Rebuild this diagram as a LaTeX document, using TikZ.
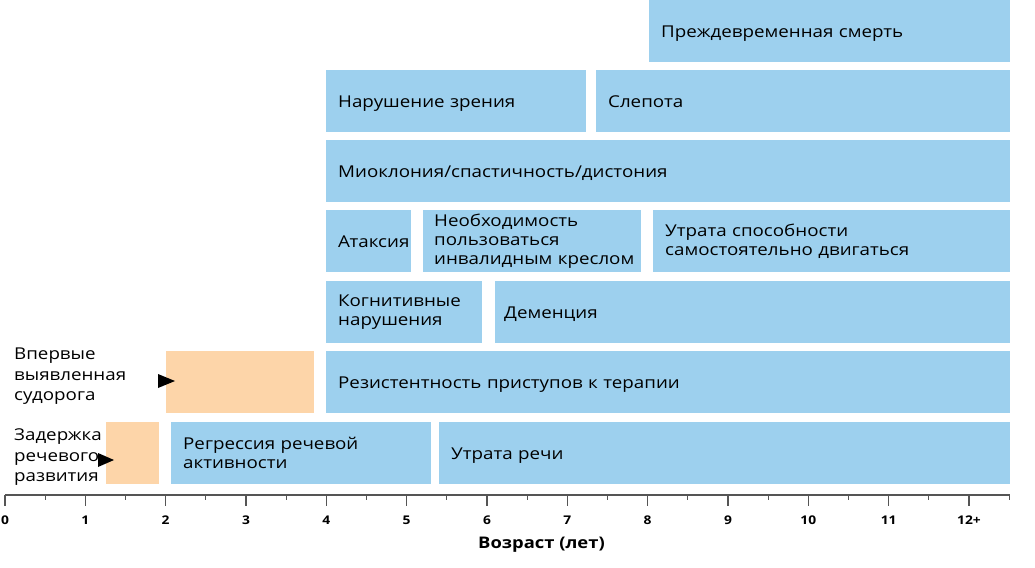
\documentclass[tikz,border=0pt]{standalone}
\usepackage{fontspec}
\setmainfont{Open Sans}[FakeStretch=1.15]
\definecolor{boxblue}{HTML}{9DD0EE}
\definecolor{boxorange}{HTML}{FDD5A9}
\definecolor{axisgray}{HTML}{555555}
\begin{document}
\begin{tikzpicture}[x=1pt,y=-1pt,
  bx/.style={anchor=north west, inner xsep=12pt, inner ysep=0pt,
    minimum height=62pt, align=left, text=black,
    font=\fontsize{16.3}{18.8}\selectfont},
  bluebox/.style={bx, fill=boxblue},
  oneline/.style={text depth=0pt},
  orangebox/.style={bx, fill=boxorange},
  sidelabel/.style={anchor=north west, inner sep=0pt, align=left,
    font=\fontsize{16.3}{20.5}\selectfont},
  marker/.style={fill=black},
  axisline/.style={draw=axisgray, line width=1.3pt},
  ticknum/.style={font=\bfseries\fontsize{12}{13}\selectfont},
  axistitle/.style={font=\bfseries\fontsize{16}{18}\selectfont}]
\useasboundingbox (0,0) rectangle (1035,567);

% rows
\node[bluebox, oneline, text width=337pt] (death) at (649,0) {Преждевременная смерть};
\node[bluebox, oneline, text width=236pt] (vision) at (326,70) {Нарушение зрения};
\node[bluebox, oneline, text width=390pt] (blind) at (596,70) {Слепота};
\node[bluebox, oneline, text width=660pt] (myo) at (326,140) {Миоклония/спастичность/дистония};
\node[bluebox, oneline, text width=73pt, inner xsep=6pt] (ataxia) at (326,210) {\hspace*{6pt}Атаксия};
\node[bluebox, text width=198pt, inner xsep=10pt] (wheel) at (423,210) {\hspace*{1pt}Необходимость\\\hspace*{1pt}пользоваться\\\hspace*{1pt}\mbox{инвалидным креслом}};
\node[bluebox, text width=333pt] (immob) at (653,210) {Утрата способности\\самостоятельно двигаться};
\node[bluebox, text width=132pt] (cogn) at (326,281) {Когнитивные\\нарушения};
\node[bluebox, oneline, text width=497pt, inner xsep=9pt] (dement) at (495,281) {Деменция};
\node[orangebox, text width=124pt] (seizbar) at (166,351) {};
\node[bluebox, oneline, text width=660pt] (resist) at (326,351) {Резистентность приступов к терапии};
\node[orangebox, text width=29pt] (delaybar) at (106,422) {};
\node[bluebox, text width=236pt] (regress) at (171,422) {Регрессия речевой\\активности};
\node[bluebox, oneline, text width=547pt] (speech) at (439,422) {Утрата речи};

% side labels
\node[sidelabel] (seizlbl) at (14,348) {Впервые\\выявленная\\судорога};
\node[sidelabel] (delaylbl) at (14,428.5) {Задержка\\речевого\\развития};
\coordinate (m1) at (158,381);
\coordinate (m2) at (98,460);
\fill[marker] (m1) ++(0,-7) -- ++(17,7) -- ++(-17,7) -- cycle;
\fill[marker] (m2) ++(0,-7) -- ++(16,7) -- ++(-16,7) -- cycle;

% axis
\coordinate (a0) at (5,495);
\coordinate (a1) at (1010,495);
\draw[axisline] (a0) -- (a1);
\foreach \k in {0,...,12} {
  \draw[axisline, line width=1.1pt] ({5+80.33*\k},495) -- ({5+80.33*\k},506);
  \draw[axisline, line width=1.1pt] ({5+80.33*(\k+0.5)},495) -- ({5+80.33*(\k+0.5)},500);
}
\foreach \k in {0,...,11} {
  \node[ticknum] (n\k) at ({5+80.33*\k},520) {\k};
}
\node[ticknum] (n12) at ({5+80.33*12},520) {12+};
\node[axistitle] (title) at (541.5,545) {Возраст (лет)};
\end{tikzpicture}
\end{document}
